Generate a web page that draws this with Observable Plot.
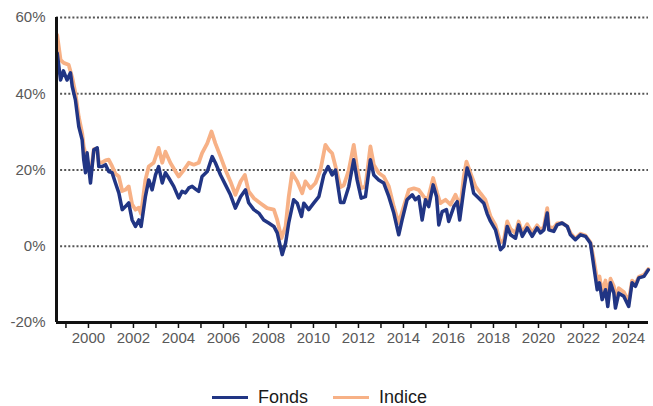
<!DOCTYPE html>
<html><head><meta charset="utf-8">
<script src="https://cdn.jsdelivr.net/npm/d3@7"></script>
<script src="https://cdn.jsdelivr.net/npm/@observablehq/plot@0.6"></script>
<style>
body{margin:0;background:#fff;font-family:"Liberation Sans",Arial,sans-serif;}
#wrap{position:relative;width:653px;height:406px;}
#legend{position:absolute;left:0;top:352px;width:653px;height:54px;}
.item{position:absolute;top:35px;height:20px;display:flex;align-items:center;font-size:18px;color:#1a1a1a;}
.sw{display:inline-block;width:36px;height:3px;margin-right:10px;}
g[aria-label="x-axis tick label"], g[aria-label="y-axis tick label"]{fill:#595959;}
</style></head><body>
<div id="wrap"><div id="chart"></div>
<div id="legend">
  <div class="item" style="left:212px"><span class="sw" style="background:#213584"></span>Fonds</div>
  <div class="item" style="left:333px"><span class="sw" style="background:#f7b186"></span>Indice</div>
</div></div>
<script>
const seriesNames = ["Fonds", "Indice"];
const fondsYears = [1998.61,1998.76,1998.89,1999.05,1999.20,1999.28,1999.42,1999.57,1999.72,1999.79,1999.87,1999.94,2000.09,2000.24,2000.39,2000.46,2000.61,2000.76,2000.90,2001.05,2001.20,2001.35,2001.50,2001.64,2001.79,2001.94,2002.09,2002.24,2002.34,2002.53,2002.68,2002.83,2002.98,2003.12,2003.28,2003.42,2003.57,2003.79,2004.01,2004.16,2004.31,2004.46,2004.61,2004.76,2004.90,2005.05,2005.28,2005.50,2005.64,2005.87,2006.09,2006.31,2006.53,2006.76,2006.98,2007.12,2007.35,2007.57,2007.79,2008.01,2008.24,2008.39,2008.61,2008.76,2008.90,2009.12,2009.28,2009.47,2009.57,2009.79,2010.01,2010.24,2010.46,2010.65,2010.83,2010.98,2011.20,2011.35,2011.57,2011.79,2011.94,2012.12,2012.31,2012.53,2012.68,2012.90,2013.12,2013.35,2013.57,2013.79,2013.94,2014.16,2014.39,2014.53,2014.68,2014.83,2014.98,2015.12,2015.32,2015.47,2015.57,2015.72,2015.91,2016.01,2016.24,2016.39,2016.50,2016.68,2016.83,2016.98,2017.12,2017.35,2017.57,2017.72,2017.87,2018.09,2018.31,2018.46,2018.61,2018.76,2018.98,2019.12,2019.28,2019.50,2019.72,2019.94,2020.09,2020.24,2020.39,2020.46,2020.68,2020.83,2021.05,2021.28,2021.42,2021.64,2021.87,2022.09,2022.31,2022.46,2022.61,2022.71,2022.83,2022.98,2023.08,2023.20,2023.35,2023.42,2023.57,2023.79,2024.01,2024.16,2024.31,2024.46,2024.69,2024.88];
const fondsValues = [50.7,43.6,46.0,43.6,45.5,41.9,38.4,31.4,27.9,22.7,19.3,24.5,16.6,25.3,25.8,20.9,20.9,21.4,19.6,19.3,16.6,14.0,9.6,10.4,11.4,6.9,5.2,6.9,5.2,13.0,17.4,14.8,18.7,20.9,16.6,19.3,17.9,15.7,12.7,14.4,14.0,15.3,15.7,15.0,14.4,18.3,19.6,23.5,21.9,18.7,16.1,13.5,10.0,13.0,14.8,11.4,9.6,8.7,6.9,6.1,5.2,3.5,-2.2,0.8,6.1,12.2,11.3,7.8,11.3,9.6,11.3,13.0,18.7,20.9,18.7,20.0,11.5,11.5,15.7,22.7,17.4,12.6,13.0,22.7,18.7,17.4,16.6,13.0,8.7,3.0,6.9,12.2,13.5,12.2,13.0,6.9,12.2,10.4,16.1,13.0,5.6,9.1,9.6,6.5,10.4,11.7,6.9,14.8,20.5,17.9,13.9,12.6,11.3,8.5,6.5,4.3,-0.9,0.0,5.2,3.0,2.1,5.6,2.6,4.8,2.6,4.8,3.5,4.3,8.7,4.3,3.9,5.6,6.1,5.2,3.0,1.7,3.0,2.6,0.8,-5.3,-11.4,-9.6,-14.0,-11.4,-15.8,-9.6,-12.3,-16.2,-12.3,-13.1,-15.8,-9.6,-10.5,-8.3,-7.9,-6.2];
const indiceYears = [1998.61,1998.76,1998.90,1999.12,1999.28,1999.42,1999.57,1999.72,1999.79,1999.94,2000.09,2000.24,2000.39,2000.46,2000.61,2000.76,2000.90,2001.05,2001.20,2001.35,2001.50,2001.64,2001.79,2001.94,2002.09,2002.24,2002.34,2002.53,2002.68,2002.90,2003.12,2003.28,2003.42,2003.64,2003.87,2004.01,2004.24,2004.46,2004.68,2004.90,2005.05,2005.28,2005.47,2005.64,2005.87,2006.09,2006.31,2006.53,2006.76,2006.95,2007.12,2007.35,2007.64,2007.94,2008.24,2008.39,2008.58,2008.76,2008.90,2009.05,2009.28,2009.50,2009.64,2009.87,2010.09,2010.31,2010.53,2010.68,2010.83,2010.98,2011.20,2011.35,2011.57,2011.79,2011.94,2012.12,2012.31,2012.53,2012.68,2012.90,2013.12,2013.35,2013.57,2013.79,2014.01,2014.24,2014.46,2014.68,2014.90,2015.08,2015.32,2015.50,2015.64,2015.87,2016.09,2016.31,2016.53,2016.68,2016.80,2016.98,2017.20,2017.42,2017.64,2017.87,2018.09,2018.31,2018.46,2018.61,2018.76,2018.98,2019.12,2019.28,2019.50,2019.72,2019.94,2020.09,2020.24,2020.39,2020.46,2020.68,2020.83,2021.05,2021.28,2021.42,2021.64,2021.87,2022.09,2022.31,2022.46,2022.61,2022.71,2022.83,2022.98,2023.08,2023.20,2023.35,2023.42,2023.57,2023.79,2024.01,2024.16,2024.31,2024.46,2024.69,2024.88];
const indiceValues = [55.4,48.9,48.1,47.6,44.2,40.2,33.9,29.7,26.1,22.7,18.5,25.5,25.5,22.0,22.0,22.5,22.7,21.0,19.0,18.3,14.5,14.8,15.7,11.0,9.6,10.1,8.5,17.4,20.9,21.9,25.8,21.9,24.8,21.9,19.6,18.3,20.0,21.9,21.4,21.9,24.4,27.0,30.1,27.0,23.5,20.0,17.0,13.5,17.0,18.7,14.4,12.6,11.3,10.0,9.6,6.9,2.1,5.2,13.0,19.2,17.0,13.9,17.0,15.2,16.6,20.0,26.6,25.3,24.4,20.9,15.5,16.0,20.0,26.6,20.5,15.2,15.7,26.2,21.4,19.2,18.3,15.7,10.4,6.1,10.4,14.8,15.2,14.8,13.0,12.2,17.9,13.9,11.3,12.2,10.9,13.5,10.4,18.3,22.2,19.2,15.7,13.9,12.2,7.8,5.5,1.0,1.5,6.5,4.5,3.5,6.5,3.5,5.8,3.5,5.5,4.3,5.0,10.0,5.0,4.8,6.0,6.1,5.2,3.5,2.0,3.3,2.8,1.0,-3.5,-9.0,-7.9,-12.0,-9.0,-13.5,-8.5,-10.5,-13.5,-11.0,-12.0,-14.5,-9.0,-10.0,-8.0,-7.5,-6.0];
const yTicks = [-20, 0, 20, 40, 60];
const gridValues = [0, 20, 40, 60];
const xTicks = d3.range(1999, 2025);

const fonds = fondsYears.map((t, i) => ({t, v: fondsValues[i]}));
const indice = indiceYears.map((t, i) => ({t, v: indiceValues[i]}));
const x0 = 1998.58, x1 = 2024.89;

const chart = Plot.plot({
  width: 653, height: 352,
  marginLeft: 56, marginRight: 5, marginTop: 17, marginBottom: 30,
  x: {type: "linear", domain: [x0, x1]},
  y: {domain: [-20, 60]},
  style: {fontFamily: "'Liberation Sans', Arial, sans-serif", fontSize: "15px", background: "white", overflow: "visible"},
  marks: [
    Plot.ruleY(gridValues, {stroke: "#555", strokeWidth: 2, strokeDasharray: "2,2.1"}),
    Plot.line(indice, {x: "t", y: "v", stroke: "#f7b186", strokeWidth: 3.8, strokeLinejoin: "round"}),
    Plot.line(fonds, {x: "t", y: "v", stroke: "#213584", strokeWidth: 3.5, strokeLinejoin: "round"}),
    Plot.ruleX([x0], {y1: -20, y2: 60, stroke: "#111", strokeWidth: 3}),
    Plot.ruleY([-20], {stroke: "#111", strokeWidth: 3}),
    Plot.axisY({ticks: yTicks, tickFormat: d => d + "%", tickSize: 0, tickPadding: 11, label: null}),
    Plot.axisX({ticks: xTicks, tickFormat: d => d % 2 === 0 ? String(d) : "", tickSize: 6, tickPadding: 4, stroke: "#111", strokeWidth: 1.5, label: null})
  ]
});
document.getElementById("chart").appendChild(chart);
</script>
</body></html>
